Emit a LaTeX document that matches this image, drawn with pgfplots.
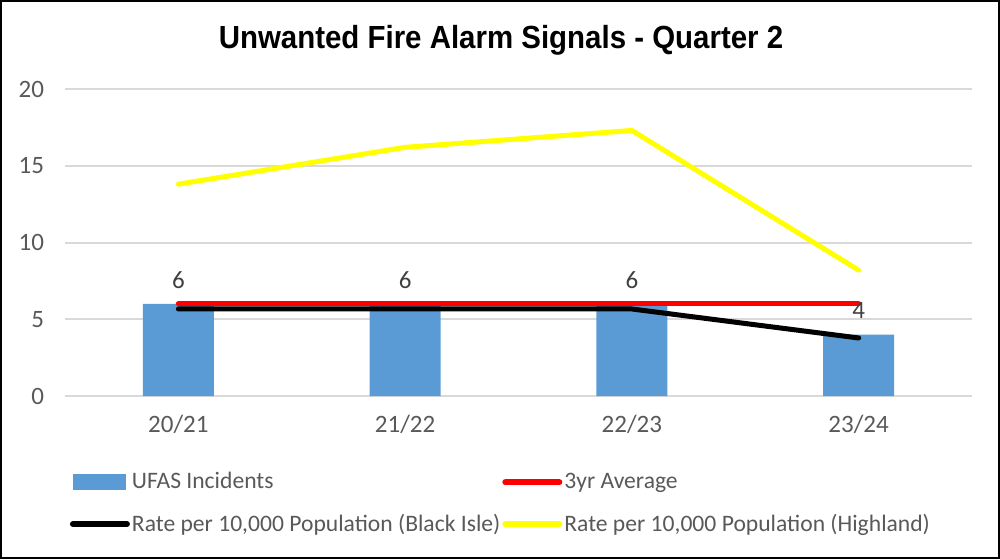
\documentclass[border=0pt]{standalone}
\usepackage{pgfplots}
\pgfplotsset{compat=1.18}
\usepackage{fontspec}
\setmainfont{Carlito}
\newfontfamily\titlefont{Liberation Sans}
\definecolor{barblue}{HTML}{5B9BD5}
\definecolor{ticktext}{HTML}{595959}
\definecolor{labeltext}{HTML}{404040}
\definecolor{gridgray}{HTML}{D9D9D9}
\definecolor{yel}{HTML}{FFFF00}
\definecolor{redl}{HTML}{FF0000}
\begin{document}
\begin{tikzpicture}
\draw[black, line width=1pt] (0.5pt,0.5pt) rectangle (499.5pt,279pt);
\node[font=\titlefont\bfseries\fontsize{16}{19}\selectfont] at (250.5pt,259.5pt) {\scalebox{0.92}[1]{Unwanted Fire Alarm Signals - Quarter 2}};
\begin{axis}[
  at={(32.5pt,81.5pt)}, anchor=south west,
  scale only axis, width=453.5pt, height=153.5pt,
  xmin=-0.5, xmax=3.5, ymin=0, ymax=20,
  ytick={0,5,10,15,20},
  xtick={0,1,2,3}, xticklabels={20/21,21/22,22/23,23/24},
  /pgf/number format/assume math mode=true,
  ymajorgrids, grid style={gridgray, line width=1pt},
  axis line style={draw=none},
  major tick length=0pt,
  tick label style={ticktext, font=\fontsize{12.5}{15}\selectfont},
  yticklabel style={xshift=-7pt},
  xticklabel style={yshift=-6pt},
  clip=false,
  legend columns=2,
  legend cell align=left,
  legend style={at={(0.005,-0.235)}, anchor=north west, draw=none, fill=none,
    inner sep=0pt, font=\fontsize{11.8}{14}\selectfont, text=ticktext,
    nodes={inner xsep=1pt},
    row sep=7pt,
    /tikz/every odd column/.append style={column sep=0pt},
    /tikz/every even column/.append style={column sep=0pt}},
]
\addplot[ybar, bar width=35.5pt, fill=barblue, draw=none,
  nodes near coords,
  nodes near coords style={anchor=center, yshift=12pt, text=labeltext, font=\fontsize{12.5}{15}\selectfont, inner xsep=0.333em},
  legend image code/.code={\fill[barblue] (0pt,-4pt) rectangle (26.5pt,4pt);}]
  coordinates {(0,6) (1,6) (2,6) (3,4)};
\addlegendentry{UFAS Incidents}
\addplot[redl, line width=2.5pt, line cap=round,
  legend image code/.code={\draw[redl, line width=3pt, line cap=round] (0pt,0pt) -- (27pt,0pt);}]
  coordinates {(0,6) (1,6) (2,6) (3,6)};
\addlegendentry{3yr Average}
\addplot[black, line width=2.5pt, line cap=round,
  legend image code/.code={\draw[black, line width=3pt, line cap=round] (0pt,0pt) -- (27pt,0pt);}]
  coordinates {(0,5.67) (1,5.67) (2,5.67) (3,3.78)};
\addlegendentry{Rate per 10,000 Population (Black Isle)}
\addplot[yel, line width=2.5pt, line cap=round,
  legend image code/.code={\draw[yel, line width=3pt, line cap=round] (0pt,0pt) -- (27pt,0pt);}]
  coordinates {(0,13.8) (1,16.2) (2,17.3) (3,8.2)};
\addlegendentry{Rate per 10,000 Population (Highland)}
\end{axis}
\end{tikzpicture}
\end{document}
